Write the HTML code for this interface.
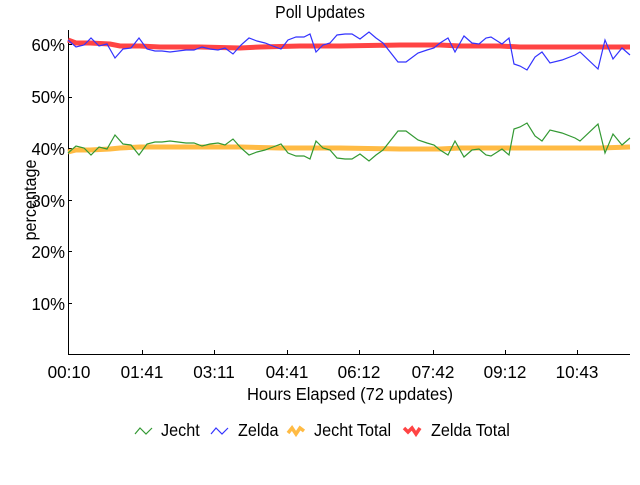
<!DOCTYPE html>
<html><head><meta charset="utf-8"><style>
body{margin:0;background:#fff;width:640px;height:480px;overflow:hidden}
svg text{font-family:"Liberation Sans",sans-serif;fill:#000}
</style></head><body>
<svg id="s" width="640" height="480" xmlns="http://www.w3.org/2000/svg">
<text font-size="18" text-anchor="middle" transform="translate(320,18) scale(0.88,1)">Poll Updates</text>
<g font-size="18" text-anchor="end">
<text transform="translate(65,51) scale(0.93,1)">60%</text>
<text transform="translate(65,103) scale(0.93,1)">50%</text>
<text transform="translate(65,155) scale(0.93,1)">40%</text>
<text transform="translate(65,207) scale(0.93,1)">30%</text>
<text transform="translate(65,258) scale(0.93,1)">20%</text>
<text transform="translate(65,310) scale(0.93,1)">10%</text>
</g>
<text font-size="18" text-anchor="middle" transform="translate(36,200) rotate(-90) scale(0.9,1)">percentage</text>
<g stroke="#000" stroke-width="1">
<line x1="68.5" y1="30" x2="68.5" y2="355"/>
<line x1="68" y1="354.5" x2="630" y2="354.5"/>
<line x1="68" y1="44.5" x2="72" y2="44.5"/><line x1="68" y1="97.5" x2="72" y2="97.5"/>
<line x1="68" y1="148.5" x2="72" y2="148.5"/><line x1="68" y1="200.5" x2="72" y2="200.5"/>
<line x1="68" y1="251.5" x2="72" y2="251.5"/><line x1="68" y1="303.5" x2="72" y2="303.5"/>
<line x1="142.5" y1="350" x2="142.5" y2="355"/><line x1="214.5" y1="350" x2="214.5" y2="355"/>
<line x1="287.5" y1="350" x2="287.5" y2="355"/><line x1="359.5" y1="350" x2="359.5" y2="355"/>
<line x1="433.5" y1="350" x2="433.5" y2="355"/><line x1="505.5" y1="350" x2="505.5" y2="355"/>
<line x1="577.5" y1="350" x2="577.5" y2="355"/>
</g>
<g font-size="18" text-anchor="middle">
<text transform="translate(69,378) scale(0.95,1)">00:10</text>
<text transform="translate(142,378) scale(0.95,1)">01:41</text>
<text transform="translate(214,378) scale(0.95,1)">03:11</text>
<text transform="translate(287,378) scale(0.95,1)">04:41</text>
<text transform="translate(359,378) scale(0.95,1)">06:12</text>
<text transform="translate(433,378) scale(0.95,1)">07:42</text>
<text transform="translate(505,378) scale(0.95,1)">09:12</text>
<text transform="translate(577,378) scale(0.95,1)">10:43</text>
<text transform="translate(350,400) scale(0.92,1)">Hours Elapsed (72 updates)</text>
</g>
<polyline fill="none" stroke="#f44" stroke-width="5" points="68,40 76,43 90,43 110,44 120,46 140,46 160,47 200,47 240,48 260,47 300,46 340,46 400,45 440,45 460,46 500,46 520,47 580,47 600,47 630,47"/>
<polyline fill="none" stroke="#fb4" stroke-width="5" points="68,152 76,150 90,150 110,149 120,148 140,147 160,147 200,147 240,147 280,148 340,148 400,149 440,149 460,148 500,148 520,148 560,148 600,148 630,147"/>
<polyline id="b" fill="none" stroke="#33f" stroke-width="1.2"/>
<polyline id="g" fill="none" stroke="#393" stroke-width="1.2"/>
<g font-size="18">
<polyline fill="none" stroke="#393" stroke-width="1.2" points="135,434 140,428 146,434 152,428"/>
<text transform="translate(161,436) scale(0.9,1)">Jecht</text>
<polyline fill="none" stroke="#33f" stroke-width="1.2" points="211,434 216,428 222,434 228,428"/>
<text transform="translate(238,436) scale(0.9,1)">Zelda</text>
<polyline fill="none" stroke="#fb4" stroke-width="3.5" points="288,433 292,428 296,434 300,428 304,431"/>
<text transform="translate(314,436) scale(0.9,1)">Jecht Total</text>
<polyline fill="none" stroke="#f44" stroke-width="3.5" points="404,428 408,432 412,428 416,434 420,428"/>
<text transform="translate(431,436) scale(0.9,1)">Zelda Total</text>
</g>
</svg>
<script>
var p=[[68,40],[76,47],[84,45],[91,38],[99,46],[107,44],[115,58],[123,49],[131,48],[139,38],[147,49],[155,51],[162,51],[170,52],[178,51],[186,50],[194,50],[202,47],[210,49],[218,50],[225,48],[233,54],[241,45],[249,38],[257,41],[265,43],[273,46],[281,49],[288,40],[296,37],[304,37],[310,34],[316,52],[323,45],[330,43],[337,35],[345,34],[352,34],[360,39],[369,32],[376,38],[383,43],[398,62],[406,62],[418,53],[427,50],[434,48],[440,43],[448,38],[455,52],[464,36],[472,43],[479,44],[486,38],[491,37],[502,44],[509,38],[514,64],[520,66],[527,70],[535,57],[542,52],[550,63],[562,60],[575,55],[580,52],[598,69],[605,40],[613,59],[622,48],[630,55]];
document.getElementById('b').setAttribute('points',p.map(function(a){return a[0]+','+a[1]}).join(' '));
document.getElementById('g').setAttribute('points',p.map(function(a){return a[0]+','+(193-a[1])}).join(' '));
</script>
</body></html>
